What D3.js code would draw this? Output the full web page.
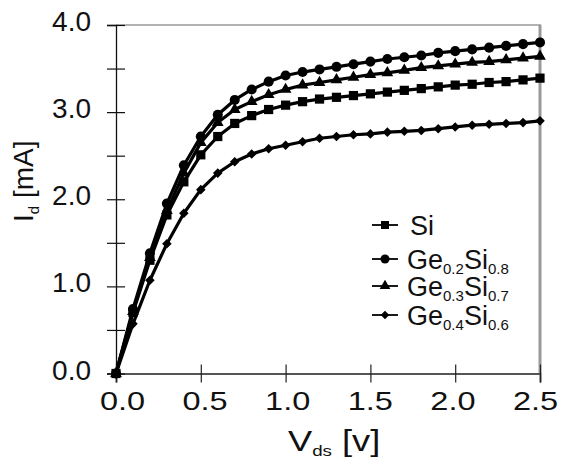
<!DOCTYPE html>
<html><head><meta charset="utf-8">
<script src="https://cdn.jsdelivr.net/npm/d3@7"></script>
<style>body{margin:0;background:#fff}svg{display:block;font-family:"Liberation Sans",Arial,sans-serif}</style>
</head><body><svg id="c" width="562" height="461"></svg>
<script>
const vds = [0,0.1,0.2,0.3,0.4,0.5,0.6,0.7,0.8,0.9,1.0,1.1,1.2,1.3,1.4,1.5,1.6,1.7,1.8,1.9,2.0,2.1,2.2,2.3,2.4,2.5];
const si   = [0,0.70,1.30,1.82,2.20,2.51,2.72,2.87,2.96,3.03,3.08,3.12,3.15,3.17,3.19,3.21,3.23,3.25,3.27,3.29,3.31,3.32,3.34,3.35,3.37,3.39];
const ge02 = [0,0.74,1.38,1.95,2.39,2.72,2.97,3.14,3.26,3.35,3.42,3.46,3.49,3.52,3.55,3.58,3.61,3.63,3.65,3.68,3.70,3.72,3.74,3.76,3.78,3.80];
const ge03 = [0,0.71,1.33,1.87,2.30,2.65,2.88,3.03,3.12,3.20,3.26,3.31,3.34,3.37,3.40,3.43,3.45,3.48,3.51,3.53,3.55,3.57,3.58,3.60,3.62,3.64];
const ge04 = [0,0.57,1.07,1.49,1.84,2.11,2.30,2.43,2.52,2.58,2.62,2.66,2.70,2.72,2.74,2.75,2.77,2.78,2.79,2.81,2.83,2.85,2.86,2.87,2.88,2.90];
const xTicks = [0,0.5,1.0,1.5,2.0,2.5];
const yTicks = [0,0.5,1,1.5,2,2.5,3,3.5,4];
const seriesNames = [["Si",null,null],["Ge","0.2","0.8"],["Ge","0.3","0.7"],["Ge","0.4","0.6"]];

const svg = d3.select("#c");
const x = d3.scaleLinear().domain([0,2.5]).range([116,540]);
const xLab = d3.scaleLinear().domain([0,2.5]).range([122,535]);
const y = d3.scaleLinear().domain([0,4]).range([373.5,25]);

// frame
svg.append("line").attr("x1",116).attr("x2",541).attr("y1",y(4)).attr("y2",y(4)).attr("stroke","#999").attr("stroke-width",1.5);
svg.append("line").attr("x1",540).attr("x2",540).attr("y1",y(4)).attr("y2",y(0)).attr("stroke","#999").attr("stroke-width",3);

// x axis
const gx = svg.append("g").attr("transform",`translate(0,${y(0)})`)
  .call(d3.axisBottom(x).tickValues(xTicks).tickFormat(d3.format(".1f")).tickSizeOuter(0).tickSize(9));
gx.select(".domain").attr("stroke","#555").attr("stroke-width",2);
gx.selectAll(".tick line").attr("y1",-9).attr("y2",9).attr("stroke","#222").attr("stroke-width",1.2);
gx.selectAll(".tick text").attr("font-size",26).attr("fill","#111").attr("font-family","Liberation Sans, Arial, sans-serif")
  .attr("y",0).attr("dy",0).attr("transform",d=>`translate(${xLab(d)-x(d)},36) scale(1.25,1)`);

// y axis
const gy = svg.append("g").attr("transform",`translate(${x(0)},0)`)
  .call(d3.axisLeft(y).tickValues(yTicks).tickFormat(d=> Number.isInteger(d)? d3.format(".1f")(d):"").tickSizeOuter(0).tickSize(9));
gy.select(".domain").attr("stroke","#111").attr("stroke-width",1.3);
gy.selectAll(".tick line").attr("x1",-9).attr("x2",9).attr("stroke","#111").attr("stroke-width",1.2);
gy.selectAll(".tick text").attr("font-size",28).attr("fill","#111").attr("font-family","Liberation Sans, Arial, sans-serif")
  .attr("x",-25).attr("dy","0.2em");

// series
const sets = [si,ge02,ge03,ge04];
const symbols = [
  d3.symbol().type(d3.symbolSquare).size(85),
  d3.symbol().type(d3.symbolCircle).size(80),
  d3.symbol().type(d3.symbolTriangle).size(60),
  d3.symbol().type(d3.symbolSquare).size(46)
];
const rots = [0,0,0,45];
const line = d3.line().x((d,i)=>x(vds[i])).y(d=>y(d));
const order = [3,0,2,1];
order.forEach(k=>{
  const g = svg.append("g");
  g.append("path").attr("d",line(sets[k])).attr("fill","none").attr("stroke","#000").attr("stroke-width",3.2).attr("stroke-linejoin","round");
  g.selectAll("path.m").data(sets[k]).join("path").attr("class","m")
    .attr("d",symbols[k]).attr("fill","#000")
    .attr("transform",(d,i)=>`translate(${x(vds[i])},${y(d)}) rotate(${rots[k]})`);
});

// legend
const legY = [225,259,286,315];
const legBase = [235,269,296,325];
const legSym = [
  d3.symbol().type(d3.symbolSquare).size(64),
  d3.symbol().type(d3.symbolCircle).size(64),
  d3.symbol().type(d3.symbolTriangle).size(50),
  d3.symbol().type(d3.symbolSquare).size(36)
];
seriesNames.forEach((nm,k)=>{
  const g = svg.append("g");
  g.append("line").attr("x1",372).attr("x2",398).attr("y1",legY[k]).attr("y2",legY[k]).attr("stroke","#000").attr("stroke-width",1.8);
  g.append("path").attr("d",legSym[k]).attr("transform",`translate(385,${legY[k]}) rotate(${rots[k]})`).attr("fill","#000");
  const t = g.append("text").attr("x",k===0?410:407).attr("y",legBase[k]).attr("font-size",27).attr("fill","#111");
  if(nm[1]===null){ t.text(nm[0]); }
  else {
    t.append("tspan").text(nm[0]);
    t.append("tspan").text(nm[1]).attr("font-size",15).attr("dy",5);
    t.append("tspan").text("Si").attr("dy",-5);
    t.append("tspan").text(nm[2]).attr("font-size",15).attr("dy",5);
  }
});

// axis titles
const xt = svg.append("text").attr("transform","translate(288,451) scale(1.25,1)").attr("font-size",29).attr("fill","#111");
xt.append("tspan").text("V");
xt.append("tspan").text("ds").attr("font-size",15).attr("dy",5);
xt.append("tspan").text(" [v]").attr("dy",-5);

const yt = svg.append("text").attr("transform","translate(33,222) rotate(-90)").attr("font-size",28).attr("fill","#111");
yt.append("tspan").text("I");
yt.append("tspan").text("d").attr("font-size",15).attr("dy",6);
yt.append("tspan").text(" [mA]").attr("dy",-6);
</script></body></html>
